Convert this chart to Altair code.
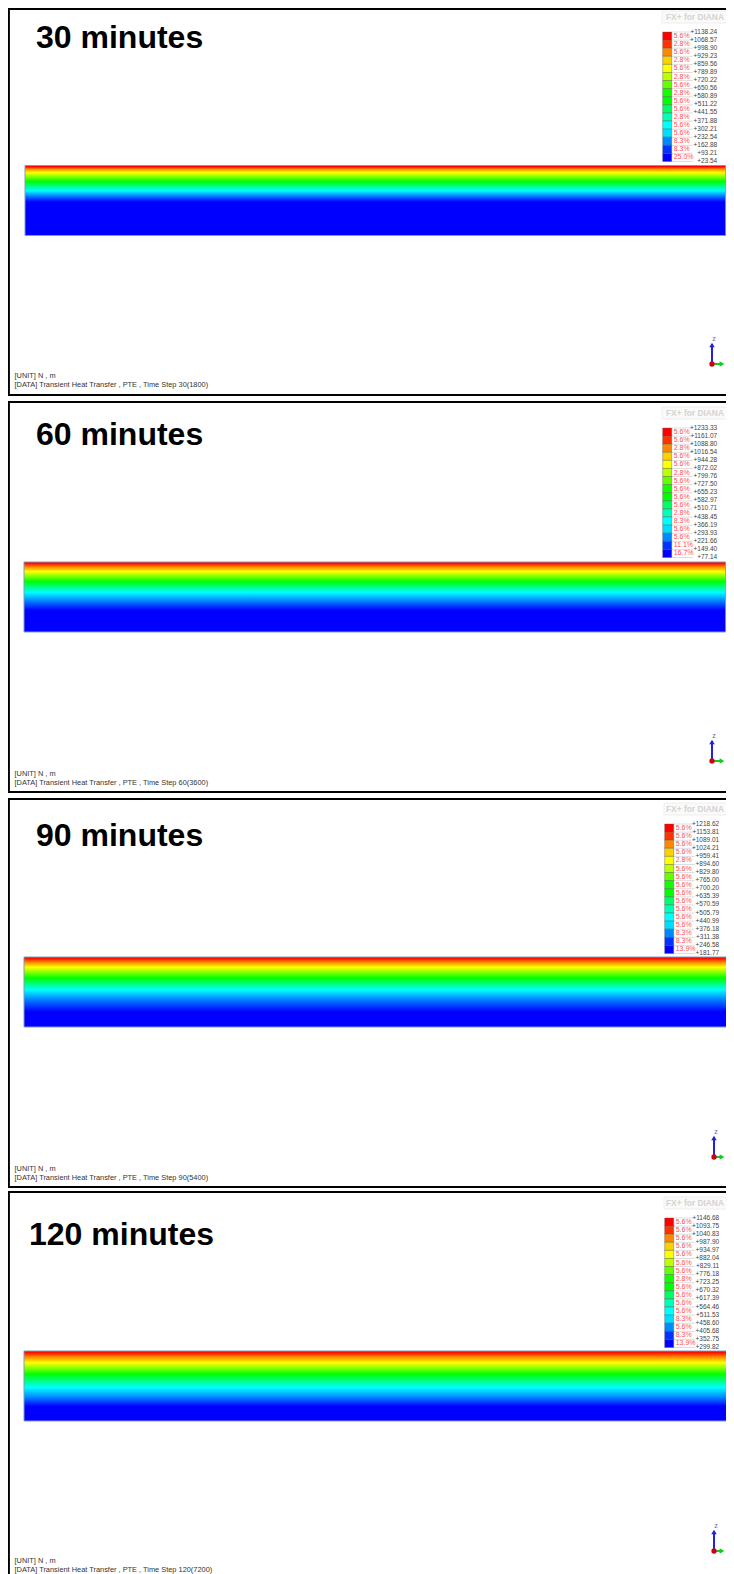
import altair as alt
import pandas as pd

# ---- values ----
titles = ["30 minutes", "60 minutes", "90 minutes", "120 minutes"]
steps = ["30(1800)", "60(3600)", "90(5400)", "120(7200)"]
values_30 = [1138.24,1068.57,998.90,929.23,859.56,789.89,720.22,650.56,580.89,511.22,441.55,371.88,302.21,232.54,162.88,93.21,23.54]
values_60 = [1233.33,1161.07,1088.80,1016.54,944.28,872.02,799.76,727.50,655.23,582.97,510.71,438.45,366.19,293.93,221.66,149.40,77.14]
values_90 = [1218.62,1153.81,1089.01,1024.21,959.41,894.60,829.80,765.00,700.20,635.39,570.59,505.79,440.99,376.18,311.38,246.58,181.77]
values_120 = [1146.68,1093.75,1040.83,987.90,934.97,882.04,829.11,776.18,723.25,670.32,617.39,564.46,511.53,458.60,405.68,352.75,299.82]
pct_30 = [5.6,2.8,5.6,2.8,5.6,2.8,5.6,2.8,5.6,5.6,2.8,5.6,5.6,8.3,8.3,25.0]
pct_60 = [5.6,5.6,2.8,5.6,5.6,2.8,5.6,5.6,5.6,5.6,2.8,8.3,5.6,5.6,11.1,16.7]
pct_90 = [5.6,5.6,5.6,5.6,2.8,5.6,5.6,5.6,5.6,5.6,5.6,5.6,5.6,8.3,8.3,13.9]
pct_120 = [5.6,5.6,5.6,5.6,5.6,5.6,5.6,2.8,5.6,5.6,5.6,5.6,8.3,5.6,8.3,13.9]
band_colors = ["#ff0000","#ff3300","#ff8800","#ffd000","#ffff00","#bbff00","#66ff00","#11ff00",
               "#00ff00","#00ff66","#00ffbb","#00ffff","#00ddff","#0088ff","#0033ff","#0000ff"]
ramp_colors = ["#e80000","#ff0000","#ff8800","#ffff00","#00ff00","#00ffff","#0088ff","#0000ff","#0000ff"]
ramp_30 = [0,0.015,0.05,0.10,0.225,0.36,0.43,0.52,1]
ramp_60 = [0,0.015,0.07,0.135,0.276,0.433,0.55,0.69,1]
ramp_90 = [0,0.015,0.075,0.145,0.30,0.47,0.60,0.78,1]
ramp_120 = [0,0.015,0.085,0.167,0.33,0.52,0.66,0.79,1]

all_values = [values_30, values_60, values_90, values_120]
all_pct = [pct_30, pct_60, pct_90, pct_120]
all_ramps = [ramp_30, ramp_60, ramp_90, ramp_120]

# ---- page layout, in reference pixels (the drawing surface spans 8..726 x 8..1574) ----
X0, X1, Y0, Y1 = 8, 726, 8, 1574
frame_top = [9, 402, 799, 1192]
frame_bot = [395, 792, 1187, 1590]
frame_left = 8.9
beam_x = [(25, 725.7), (24, 725.7), (24, 727.7), (24, 727.7)]
beam_y = [(165.5, 235.5), (562, 632), (957, 1027), (1351, 1421)]
leg_x = [662.7, 662.7, 664.7, 664.7]
leg_y = [32, 428, 824, 1218]
leg_h = 129.5
title_x = [36, 36, 36, 29]
title_y = [37.5, 435, 836, 1235]
foot_y = [376, 774, 1169, 1561]
triad = [(712, 364), (712, 761), (714, 1157), (714, 1551)]
brand_y = [11, 407, 803, 1197]

X = lambda f="x": alt.X(f"{f}:Q", scale=alt.Scale(domain=[X0, X1], nice=False, zero=False), axis=None)
Y = lambda f="y": alt.Y(f"{f}:Q", scale=alt.Scale(domain=[Y0, Y1], nice=False, zero=False, reverse=True), axis=None)
X2 = alt.X2("x2:Q")
Y2 = alt.Y2("y2:Q")

def rects(rows, **mark):
    return alt.Chart(pd.DataFrame(rows)).mark_rect(**mark).encode(x=X(), x2=X2, y=Y(), y2=Y2)

def rules(rows, **mark):
    return alt.Chart(pd.DataFrame(rows)).mark_rule(**mark).encode(x=X(), x2=X2, y=Y(), y2=Y2)

def texts(rows, **mark):
    return alt.Chart(pd.DataFrame(rows)).mark_text(baseline="middle", font="Liberation Sans", **mark).encode(
        x=X(), y=Y(), text="t:N")

layers = []
for i in range(4):
    vals, pcts = all_values[i], all_pct[i]
    # frame
    layers.append(rects([dict(x=frame_left, x2=745, y=frame_top[i], y2=frame_bot[i])],
                        fill="white", stroke="black", strokeWidth=2))
    # beam with temperature gradient
    stops = [alt.GradientStop(offset=o, color=c) for o, c in zip(all_ramps[i], ramp_colors)]
    layers.append(rects([dict(x=beam_x[i][0], x2=beam_x[i][1], y=beam_y[i][0], y2=beam_y[i][1])],
                        color=alt.LinearGradient(gradient="linear", stops=stops, x1=0, x2=0, y1=0, y2=1),
                        stroke="#7f9cc0", strokeWidth=1))
    # legend
    n = len(pcts)
    lx, ly = leg_x[i], leg_y[i]
    dy = leg_h / n
    tick_rows = [dict(x=lx + 9, x2=lx + 30, y=ly + k * dy, y2=ly + k * dy) for k in range(n + 1)]
    layers.append(rules(tick_rows, color="#dddddd", strokeWidth=1))
    swatch = pd.DataFrame([dict(x=lx, x2=lx + 9, y=ly + k * dy, y2=ly + (k + 1) * dy, c=band_colors[k]) for k in range(n)])
    layers.append(alt.Chart(swatch).mark_rect(stroke="#555555", strokeWidth=0.4).encode(
        x=X(), x2=X2, y=Y(), y2=Y2,
        color=alt.Color("c:N", scale=None)))
    layers.append(texts([dict(x=lx + 11, y=ly + (k + 0.5) * dy, t=f"{p:.1f}%") for k, p in enumerate(pcts)],
                        align="left", fontSize=7, color="#ff5050"))
    layers.append(texts([dict(x=lx + 54.5, y=ly - 0.5 + k * dy, t=f"+{v:.2f}") for k, v in enumerate(vals)],
                        align="right", fontSize=6.5, color="#444444"))
    # brand box
    layers.append(rects([dict(x=lx - 0.7, x2=745, y=brand_y[i], y2=brand_y[i] + 12)],
                        fill="#fafafa", stroke="#eeeeee", strokeWidth=1))
    layers.append(texts([dict(x=666, y=brand_y[i] + 6, t="FX+ for DIANA")],
                        align="left", fontSize=8.4, fontWeight="bold", color="#d4d4d4"))
    # title
    layers.append(texts([dict(x=title_x[i], y=title_y[i], t=titles[i])],
                        align="left", fontSize=32, fontWeight="bold", color="black"))
    # footer
    layers.append(texts([dict(x=14.5, y=foot_y[i], t="[UNIT] N , m"),
                         dict(x=14.5, y=foot_y[i] + 9, t=f"[DATA] Transient Heat Transfer , PTE , Time Step {steps[i]}")],
                        align="left", fontSize=7.4, color="#333333"))
    # triad
    ox, oy = triad[i]
    tip = 722
    layers.append(rules([dict(x=ox, x2=ox, y=oy, y2=oy - 20)], color="#2222dd", strokeWidth=2))
    layers.append(rules([dict(x=ox, x2=tip, y=oy, y2=oy)], color="#11cc22", strokeWidth=2))
    layers.append(alt.Chart(pd.DataFrame([dict(x=ox, y=oy - 19)])).mark_point(
        shape="triangle-up", filled=True, size=30, color="#2222dd", opacity=1).encode(x=X(), y=Y()))
    layers.append(alt.Chart(pd.DataFrame([dict(x=tip, y=oy)])).mark_point(
        shape="triangle-right", filled=True, size=30, color="#11cc22", opacity=1).encode(x=X(), y=Y()))
    layers.append(alt.Chart(pd.DataFrame([dict(x=ox, y=oy)])).mark_point(
        shape="circle", filled=True, size=28, color="#cc0011", opacity=1).encode(x=X(), y=Y()))
    layers.append(texts([dict(x=ox + 2, y=oy - 25, t="z")], align="center", fontSize=7, color="#5566cc"))

chart = alt.layer(*layers).properties(
    width=X1 - X0, height=Y1 - Y0,
    padding=0,
    autosize=alt.AutoSizeParams(type="none"),
    background="white",
).configure_view(stroke=None)

chart.save("out.html", embed_options={"renderer": "svg", "actions": False})
